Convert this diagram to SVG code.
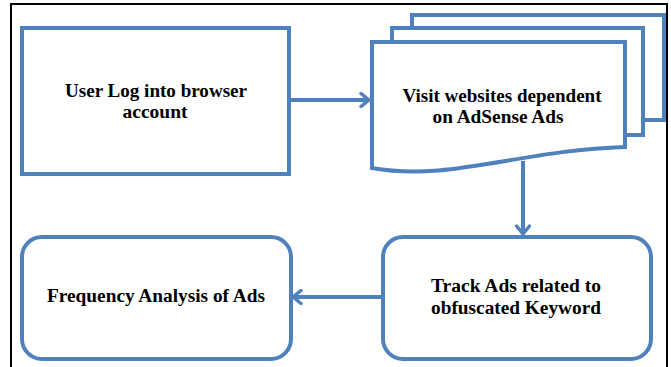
<svg xmlns="http://www.w3.org/2000/svg" width="671" height="367" viewBox="0 0 671 367">
  <style>
    .shape { fill: #ffffff; stroke: #4f81bd; stroke-width: 4; }
    .back { fill: none; stroke: #4f81bd; stroke-width: 4; stroke-linejoin: miter; }
    .conn { fill: none; stroke: #4f81bd; stroke-width: 4; }
    .label { font-family: "Liberation Serif", "Times New Roman", serif; font-weight: bold; font-size: 18px; fill: #000000; text-anchor: middle; }
  </style>
  <defs>
    <marker id="arrow" viewBox="0 0 12 16" refX="10" refY="8" markerWidth="12" markerHeight="16" markerUnits="userSpaceOnUse" orient="auto">
      <path d="M2,1.5 L10,8 L2,14.5" fill="none" stroke="#4f81bd" stroke-width="3.5" stroke-linecap="round" stroke-linejoin="round"/>
    </marker>
  </defs>
  <rect x="0" y="0" width="671" height="367" fill="#ffffff"/>
  <rect x="11" y="4" width="656" height="372" fill="none" stroke="#000000" stroke-width="2"/>

  <g id="connectors">
    <line class="conn" x1="289" y1="100" x2="369" y2="100" marker-end="url(#arrow)"/>
    <line class="conn" x1="523" y1="161" x2="523" y2="234" marker-end="url(#arrow)"/>
    <line class="conn" x1="383" y1="297" x2="293" y2="297" marker-end="url(#arrow)"/>
  </g>

  <g id="node-login">
    <rect class="shape" x="22" y="28" width="267" height="146"/>
    <text class="label" x="156" y="97" textLength="182" lengthAdjust="spacingAndGlyphs">User Log into browser</text>
    <text class="label" x="155" y="118" textLength="65" lengthAdjust="spacingAndGlyphs">account</text>
  </g>

  <g id="node-visit">
    <path class="back" d="M412,28 V15 H664 V120 H643"/>
    <path class="back" d="M392,42 V28 H643 V135 H625"/>
    <path class="shape" d="M372,42 H625 V147 C520,150 450,182 372,168 Z"/>
    <text class="label" x="502" y="102" textLength="199" lengthAdjust="spacingAndGlyphs">Visit websites dependent</text>
    <text class="label" x="498" y="123" textLength="131" lengthAdjust="spacingAndGlyphs">on AdSense Ads</text>
  </g>

  <g id="node-track">
    <rect class="shape" x="383" y="237" width="268" height="122" rx="20" ry="20"/>
    <text class="label" x="516" y="292" textLength="170" lengthAdjust="spacingAndGlyphs">Track Ads related to</text>
    <text class="label" x="516" y="314" textLength="170" lengthAdjust="spacingAndGlyphs">obfuscated Keyword</text>
  </g>

  <g id="node-frequency">
    <rect class="shape" x="22" y="237" width="269" height="122" rx="20" ry="20"/>
    <text class="label" x="156" y="302" textLength="218" lengthAdjust="spacingAndGlyphs">Frequency Analysis of Ads</text>
  </g>
</svg>
